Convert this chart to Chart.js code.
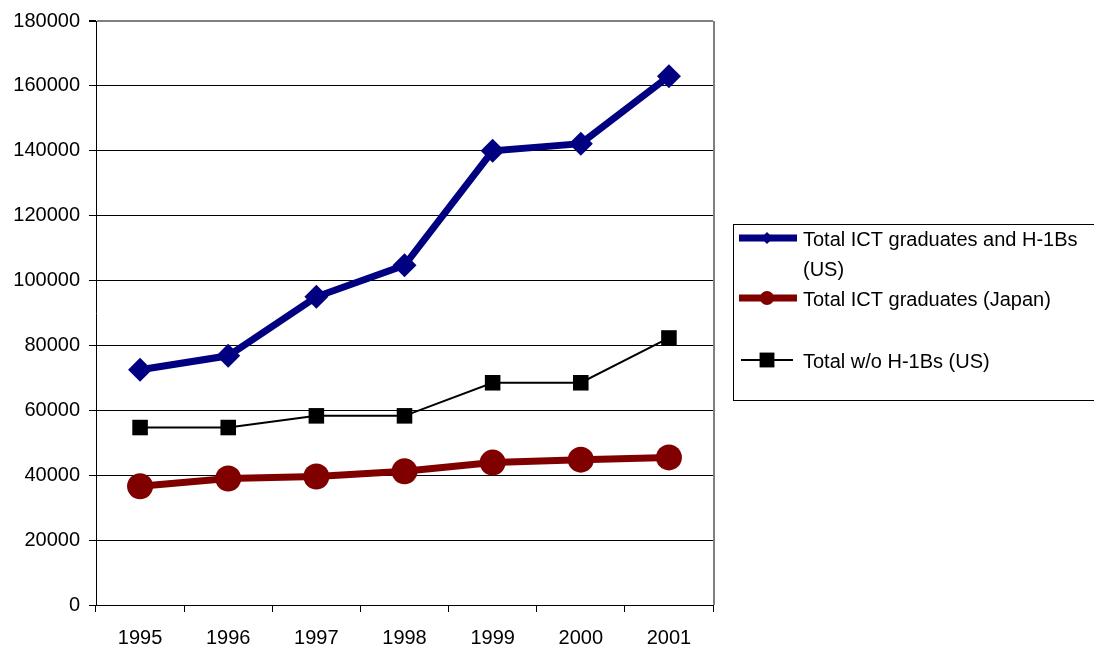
<!DOCTYPE html>
<html lang="en">
<head>
  <meta charset="UTF-8">
  <title>ICT graduates</title>
  <script src="https://cdn.jsdelivr.net/npm/chart.js"></script>
  <style>
    body { margin: 0; background: #fff; }
    #wrap { width: 1094px; height: 645px; }
  </style>
</head>
<body>
  <div id="wrap"><canvas id="ictChart" width="1094" height="645"></canvas></div>
  <script>
    // data
    const years = ['1995', '1996', '1997', '1998', '1999', '2000', '2001'];
    const usWithH1b = [72500, 76800, 95000, 104700, 140000, 142200, 163000];
    const japan = [36600, 39000, 39600, 41200, 43900, 44800, 45500];
    const usWithoutH1b = [54700, 54700, 58300, 58300, 68500, 68500, 82300];
    const legendLines = [
      ['Total ICT graduates and H-1Bs', '(US)'],
      ['Total ICT graduates (Japan)'],
      ['Total w/o H-1Bs (US)']
    ];

    const FONT = '"Liberation Sans", Arial, sans-serif';

    // right plot border + legend box drawn by hand, like the excel one
    const frameAndLegend = {
      id: 'frameAndLegend',
      afterDraw(chart) {
        const ctx = chart.ctx;
        const a = chart.chartArea;
        ctx.save();
        ctx.strokeStyle = '#808080';
        ctx.lineWidth = 2;
        ctx.beginPath();
        ctx.moveTo(a.right + 1, a.top);
        ctx.lineTo(a.right + 1, a.bottom);
        ctx.stroke();

        // legend box
        ctx.strokeStyle = '#000';
        ctx.lineWidth = 1;
        ctx.strokeRect(733.5, 224.5, 400, 176);

        const rows = [238, 298, 360];
        const markR = [6, 7, 10.5];
        ctx.font = '20px ' + FONT;
        ctx.textBaseline = 'middle';
        chart.data.datasets.forEach((ds, i) => {
          const y = rows[i];
          ctx.strokeStyle = ds.borderColor;
          ctx.lineWidth = ds.borderWidth;
          ctx.beginPath();
          ctx.moveTo(i === 2 ? 741 : 739, y);
          ctx.lineTo(i === 2 ? 793 : 797, y);
          ctx.stroke();
          ctx.fillStyle = ds.backgroundColor;
          Chart.helpers.drawPoint(ctx, { pointStyle: ds.pointStyle, radius: markR[i], borderWidth: 0 }, 767, y);
          ctx.fillStyle = '#000';
          legendLines[i].forEach((t, k) => ctx.fillText(t, 803, y + 2 + k * 30));
        });
        ctx.restore();
      }
    };

    new Chart(document.getElementById('ictChart'), {
      type: 'line',
      data: {
        labels: years,
        datasets: [
          {
            label: legendLines[0].join(' '),
            data: usWithH1b,
            borderColor: '#000080',
            backgroundColor: '#000080',
            borderWidth: 7,
            pointStyle: 'rectRot',
            pointRadius: 12,
            pointBorderWidth: 0
          },
          {
            label: legendLines[1].join(' '),
            data: japan,
            borderColor: '#800000',
            backgroundColor: '#800000',
            borderWidth: 7,
            pointStyle: 'circle',
            pointRadius: 13,
            pointBorderWidth: 0
          },
          {
            label: legendLines[2].join(' '),
            data: usWithoutH1b,
            borderColor: '#000',
            backgroundColor: '#000',
            borderWidth: 2,
            pointStyle: 'rect',
            pointRadius: 11,
            pointBorderWidth: 0
          }
        ]
      },
      options: {
        responsive: false,
        animation: false,
        layout: { padding: { top: 7, right: 381, left: 0, bottom: 0 } },
        plugins: { legend: { display: false }, tooltip: { enabled: false } },
        elements: { line: { tension: 0 } },
        scales: {
          x: {
            offset: true,
            grid: { offset: true, drawOnChartArea: false, drawTicks: true, tickLength: 7, color: '#000' },
            border: { color: '#000', width: 1 },
            ticks: { color: '#000', font: { family: FONT, size: 20 }, padding: 14, maxRotation: 0 },
            afterFit: s => { s.height = 40; }
          },
          y: {
            min: 0,
            max: 180000,
            grid: {
              color: c => c.index === 9 ? '#808080' : '#000',
              lineWidth: c => c.index === 9 ? 2 : 1,
              tickLength: 7,
              tickColor: '#000'
            },
            border: { color: '#000', width: 1 },
            ticks: {
              stepSize: 20000,
              color: '#000',
              font: { family: FONT, size: 20 },
              padding: 9,
              callback: v => String(v)
            },
            afterFit: s => { s.width = 96; }
          }
        }
      },
      plugins: [frameAndLegend]
    });
  </script>
</body>
</html>
